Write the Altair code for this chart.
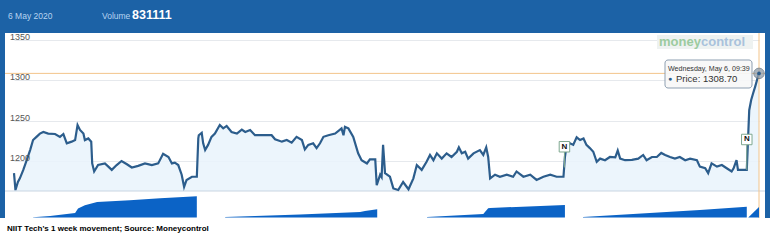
import altair as alt
import pandas as pd

# ---------------- data ----------------
# trading minutes since 29 Apr 2020 09:15 (375 minutes per session), last traded price
minutes = [0, 3, 8, 12, 19, 26, 33, 39, 46, 53, 60, 70, 84, 94, 101, 108, 118, 125, 130, 135,
           142, 145, 152, 158, 160, 164, 172, 186, 193, 200, 210, 220, 231, 241, 254, 268, 282,
           295, 305, 316, 323, 329, 336, 343, 348, 353, 364, 374,
           377, 378, 384, 387, 391, 397, 404, 411, 421, 428, 435, 445, 456, 466, 473, 483, 493,
           507, 527, 534, 548, 558, 568, 578, 589, 595, 602, 612, 619, 626, 633, 643, 657, 670,
           674, 677, 684, 694, 704, 711, 722, 728, 739, 742,
           749, 752, 755, 759, 769, 776, 786, 796, 807, 817, 824, 834, 844, 851, 858, 865, 875,
           885, 895, 906, 910, 916, 923, 929, 940, 953, 960, 966, 970, 974, 984, 994, 1008, 1021,
           1028, 1042, 1056, 1069, 1083, 1097, 1110, 1124,
           1127, 1129, 1137, 1144, 1151, 1158, 1165, 1171, 1178, 1185, 1192, 1199, 1209, 1219,
           1230, 1235, 1240, 1250, 1264, 1277, 1287, 1294, 1305, 1315, 1324, 1332, 1342, 1352,
           1362, 1373, 1383, 1397, 1403, 1414, 1420, 1427, 1438, 1448, 1458, 1468, 1472, 1478,
           1481, 1489, 1499,
           1501, 1504, 1508, 1512, 1516, 1521, 1524]
prices = [1185, 1164, 1174, 1178.5, 1189, 1201, 1213.6, 1226, 1230, 1234, 1236, 1234, 1233.5, 1230,
          1233.5, 1222, 1224, 1226, 1244.7, 1238.5, 1234, 1226, 1228, 1224, 1197, 1187, 1195, 1197,
          1193, 1189, 1195, 1200, 1196, 1192, 1194, 1197, 1195, 1197, 1209, 1205, 1197, 1198, 1195,
          1183, 1168, 1176.5, 1180.5, 1180.5,
          1228, 1232, 1235, 1222, 1213.6, 1220, 1230, 1234, 1244.7, 1240.5, 1243.5, 1236, 1234,
          1239, 1236, 1238.5, 1232, 1232, 1232, 1227, 1224, 1226, 1222.7, 1230, 1226, 1214.5, 1220,
          1222, 1216, 1222, 1230, 1232, 1234, 1240.5, 1232, 1242.5, 1240.5, 1230, 1209.5, 1201,
          1197, 1202, 1202, 1170,
          1183, 1180, 1220, 1185, 1180.5, 1166, 1164, 1174, 1165, 1178.5, 1195, 1189, 1199, 1207.5,
          1201, 1209.5, 1203, 1209.5, 1205, 1211.5, 1217, 1209.5, 1211.5, 1203, 1209.5, 1213.6,
          1207.5, 1217, 1205, 1178.5, 1183, 1180.5, 1183, 1180.5, 1187, 1180.5, 1183, 1176.5,
          1180.5, 1183, 1180.5, 1180.5,
          1205, 1213.6, 1222, 1220, 1229.4, 1226, 1228, 1220, 1216, 1211.5, 1199, 1203, 1201, 1205,
          1204.5, 1213, 1203, 1201, 1201.5, 1203, 1207.5, 1201, 1205, 1205, 1210, 1207.5, 1205,
          1203, 1205, 1201, 1203, 1201, 1193, 1191, 1185, 1197, 1193, 1195, 1191, 1187, 1191, 1201,
          1189, 1189, 1189,
          1218, 1263, 1275.7, 1284, 1292, 1302.6, 1308.7]

# cumulative traded volume within each session
vol_day = [1] * 9 + [2] * 5 + [3] * 5 + [4] * 3 + [5] * 2
vol_minutes = [39, 74, 125, 131, 145, 170, 237, 299, 374,
               432, 585, 708, 718, 743,
               845, 960, 970, 974, 1127,
               1164, 1403, 1499,
               1502, 1524]
vol_values = [20000, 125000, 360000, 705000, 965000, 1220000, 1360000, 1510000, 1670000,
              40000, 235000, 430000, 510000, 640000,
              40000, 275000, 720000, 750000, 980000,
              40000, 590000, 845000,
              0, 831111]

price_ticks = [1200, 1250, 1300, 1350]
last_minute = 1524
last_price = 1308.70
flag_minutes = [1126, 1499]
flag_line_prices = [1192, 1189]
flag_levels = [1217.7, 1226.7]
flag_labels = ["N", "N"]

header_date = "6 May 2020"
header_volume_label = "Volume"
header_volume = "831111"
tooltip_time = "Wednesday, May 6, 09:39"
tooltip_price = "Price: 1308.70"
caption = "NIIT Tech's 1 week movement; Source: Moneycontrol"

# ---------------- styling ----------------
FONT = "Liberation Sans"
BLUE_FRAME = "#1c62a6"
LINE = "#2c5d8c"
FILL = "#e9f3fc"
VOL = "#0b63c6"
CROSS = "#f3c48a"

X = alt.Scale(domain=[0, last_minute], range=[14, 759], nice=False, zero=False)
YP = alt.Scale(domain=[1162.8, 1358.8], range=[191, 33], nice=False, zero=False)
YV = alt.Scale(domain=[0, 2080000], range=[217.5, 191], nice=False, zero=False)

price_df = pd.DataFrame({"t": minutes, "price": prices})
vol_df = pd.DataFrame({"day": vol_day, "t": vol_minutes, "vol": vol_values})
last_df = pd.DataFrame({"t": [last_minute], "price": [last_price]})
flag_df = pd.DataFrame({"t": flag_minutes, "lo": flag_line_prices, "hi": flag_levels,
                        "label": flag_labels})
tick_df = pd.DataFrame({"tick": price_ticks, "txt": [str(v) for v in price_ticks]})
one = pd.DataFrame({"a": [0]})

# price panel --------------------------------------------------------------
area = alt.Chart(price_df).mark_area(color=FILL, opacity=0.85).encode(
    x=alt.X("t:Q", scale=X, axis=None),
    y=alt.Y("price:Q", scale=YP,
            axis=alt.Axis(values=price_ticks, grid=True, gridColor="#e6e9ed", gridWidth=1,
                          domain=False, ticks=False, labels=False, title=None)),
    y2=alt.datum(1162.8),
)
bottom_line = alt.Chart(one).mark_rule(color="#c9d5e2", strokeWidth=1).encode(
    x=alt.value(5), x2=alt.value(765), y=alt.value(191))
line = alt.Chart(price_df).mark_line(color=LINE, strokeWidth=2.2, interpolate="linear").encode(
    x=alt.X("t:Q", scale=X), y=alt.Y("price:Q", scale=YP))
tick_labels = alt.Chart(tick_df).mark_text(font=FONT, fontSize=9, color="#555555",
                                           align="left", baseline="alphabetic").encode(
    x=alt.value(10), y=alt.Y("tick:Q", scale=YP), text="txt:N")
hcross = alt.Chart(last_df).mark_rule(color=CROSS, strokeWidth=1).encode(
    x=alt.value(5), x2=alt.value(765), y=alt.Y("price:Q", scale=YP))
vcross = alt.Chart(last_df).mark_rule(color=CROSS, strokeWidth=1).encode(
    x=alt.X("t:Q", scale=X), y=alt.value(33), y2=alt.value(218))
marker_outer = alt.Chart(last_df).mark_circle(size=110, color="#8c9aa8", opacity=0.75,
                                               stroke="#5d6d7e", strokeWidth=1).encode(
    x=alt.X("t:Q", scale=X), y=alt.Y("price:Q", scale=YP))
marker_inner = alt.Chart(last_df).mark_circle(size=14, color=LINE, opacity=1).encode(
    x=alt.X("t:Q", scale=X), y=alt.Y("price:Q", scale=YP))

flag_stem = alt.Chart(flag_df).mark_rule(color="#7fa890", strokeWidth=1).encode(
    x=alt.X("t:Q", scale=X), y=alt.Y("lo:Q", scale=YP), y2=alt.Y2("hi:Q"))
flag_box = alt.Chart(flag_df).mark_point(shape="square", size=110, filled=True, fill="white",
                                         stroke="#7fa890", strokeWidth=1, opacity=1).encode(
    x=alt.X("t:Q", scale=X), y=alt.Y("hi:Q", scale=YP))
flag_text = alt.Chart(flag_df).mark_text(font=FONT, fontSize=8, fontWeight="bold",
                                         color="#111111", baseline="middle").encode(
    x=alt.X("t:Q", scale=X), y=alt.Y("hi:Q", scale=YP), text="label:N")

price_panel = alt.layer(area, bottom_line, line, tick_labels, hcross, vcross, flag_stem,
                        flag_box, flag_text, marker_outer, marker_inner)

# volume panel --------------------------------------------------------------
vol_area = alt.Chart(vol_df).mark_area(color=VOL, opacity=1).encode(
    x=alt.X("t:Q", scale=X),
    y=alt.Y("vol:Q", scale=YV, stack=None, axis=None),
    detail="day:N",
)

# frame, header, annotations ---------------------------------------------
header = alt.Chart(one).mark_rect(color=BLUE_FRAME).encode(
    x=alt.value(0), x2=alt.value(770), y=alt.value(0), y2=alt.value(33))
left_strip = alt.Chart(one).mark_rect(color=BLUE_FRAME).encode(
    x=alt.value(0), x2=alt.value(5), y=alt.value(0), y2=alt.value(218))
right_strip = alt.Chart(one).mark_rect(color=BLUE_FRAME).encode(
    x=alt.value(765), x2=alt.value(770), y=alt.value(0), y2=alt.value(218))

def label(text, x, y, size, color, weight="normal", align="left"):
    return alt.Chart(one).mark_text(text=text, font=FONT, fontSize=size, color=color,
                                    fontWeight=weight, align=align,
                                    baseline="middle").encode(x=alt.value(x), y=alt.value(y))

hdr_date = label(header_date, 8, 16, 8.5, "#b7d4f1")
hdr_vol = label(header_volume_label, 102, 16, 8.5, "#b7d4f1")
hdr_vol_n = label(header_volume, 132, 15, 12.5, "#ffffff", "bold")

wm_box = alt.Chart(one).mark_rect(color="#eef2f1").encode(
    x=alt.value(657), x2=alt.value(753), y=alt.value(35), y2=alt.value(49))
wm_money = label("money", 659, 42, 13, "#9ccb9f", "bold")
wm_control = label("control", 701, 42, 13, "#a9c2dc", "bold")

tip_box = alt.Chart(one).mark_rect(fill="#f8f8f8", opacity=0.92, stroke="#8597ab",
                                   strokeWidth=1, cornerRadius=3).encode(
    x=alt.value(665), x2=alt.value(752), y=alt.value(60), y2=alt.value(88))
tip_time = label(tooltip_time, 668, 69, 7.1, "#333333")
tip_dot = label("●", 668, 79, 7, LINE)
tip_price = label(tooltip_price, 676, 79, 9.5, "#333333")

cap = label(caption, 7, 229, 8, "#000000", "bold")

chart = alt.layer(
    header, price_panel, vol_area, left_strip, right_strip,
    hdr_date, hdr_vol, hdr_vol_n, wm_box, wm_money, wm_control,
    tip_box, tip_time, tip_dot, tip_price, cap,
).resolve_scale(y="independent").properties(
    width=770, height=241, padding=0, background="white",
    autosize=alt.AutoSizeParams(type="none"),
).configure_view(stroke=None)

chart.save("out.html", embed_options={"renderer": "svg", "actions": False})
